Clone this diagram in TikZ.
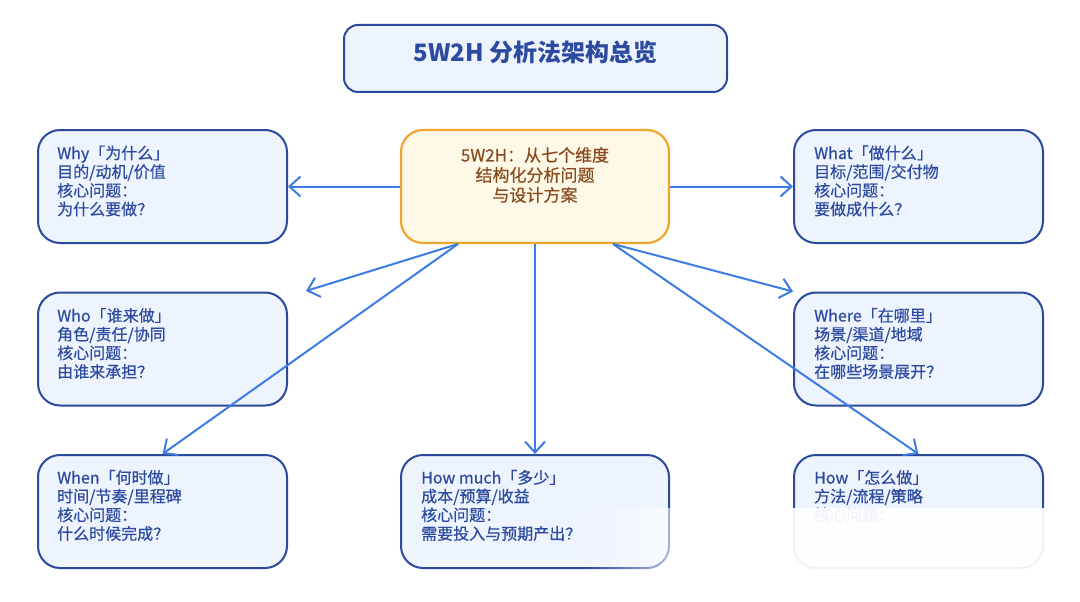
\documentclass[tikz,border=0pt]{standalone}
\usepackage{fontspec}
\setmainfont{Noto Sans CJK SC}
\newfontfamily\medfont{Noto Sans CJK SC}[FakeBold=0.5]
\usetikzlibrary{arrows.meta}
\definecolor{bfill}{HTML}{EEF4FD}
\definecolor{bdraw}{HTML}{2A4A9E}
\definecolor{btext}{HTML}{2C4BA0}
\definecolor{arrc}{HTML}{3D7DE3}
\definecolor{cfill}{HTML}{FEF8E6}
\definecolor{cdraw}{HTML}{EFA62C}
\definecolor{ctext}{HTML}{8A4A1F}
\tikzset{
  box/.style={draw=bdraw, fill=bfill, line width=2pt, rounded corners=22pt, minimum width=249pt, minimum height=113pt, inner sep=0pt},
  cbox/.style={draw=cdraw, fill=cfill, line width=2.2pt, rounded corners=22pt, minimum width=268pt, minimum height=113pt, inner sep=0pt},
  tbox/.style={draw=bdraw, fill=bfill, line width=2pt, rounded corners=14pt, minimum width=383pt, minimum height=67pt, inner sep=0pt},
  txt/.style={text=btext, align=left, inner sep=0pt, font=\medfont\fontsize{16pt}{18.7pt}\selectfont},
  arr/.style={draw=arrc, line width=2pt, -{Straight Barb[length=11pt,width=20pt,line width=2pt]}}
}
\begin{document}
\begin{tikzpicture}[x=1pt,y=-1pt]
\useasboundingbox (0,0) rectangle (1080,602);
\fill[white] (0,0) rectangle (1080,602);
% title
\node[tbox] (title) at (535.5,58.5) {};
\node[text=btext, font=\fontsize{24pt}{27pt}\selectfont\bfseries, inner sep=0pt] (titlet) at (535.5,52) {5W2H 分析法架构总览};
% center
\node[cbox] (center) at (535,186.5) {};
\node[text=ctext, align=center, inner sep=0pt, font=\medfont\fontsize{17pt}{20pt}\selectfont] (centert) at (535,175) {5W2H：从七个维度\\结构化分析问题\\与设计方案};
% boxes
\node[box] (why) at (162.5,186.5) {};
\node[txt, anchor=west] (whyt) at (57,181) {Why「为什么」\\目的/动机/价值\\核心问题：\\为什么要做？};
\node[box] (what) at (918.5,186.5) {};
\node[txt, anchor=west] (whatt) at (814,181) {What「做什么」\\目标/范围/交付物\\核心问题：\\要做成什么？};
\node[box] (who) at (162.5,349) {};
\node[txt, anchor=west] (whot) at (57,343.5) {Who「谁来做」\\角色/责任/协同\\核心问题：\\由谁来承担？};
\node[box] (where) at (918.5,349) {};
\node[txt, anchor=west] (wheret) at (814,343.5) {Where「在哪里」\\场景/渠道/地域\\核心问题：\\在哪些场景展开？};
\node[box] (when) at (162.5,511.5) {};
\node[txt, anchor=west] (whent) at (57,505.5) {When「何时做」\\时间/节奏/里程碑\\核心问题：\\什么时候完成？};
\node[cbox, draw=bdraw, fill=bfill, line width=2pt] (howmuch) at (535,511.5) {};
\node[txt, anchor=west] (howmucht) at (421,505.5) {How much「多少」\\成本/预算/收益\\核心问题：\\需要投入与预期产出？};
\node[box] (how) at (918.5,511.5) {};
\node[txt, anchor=west] (howt) at (814,505.5) {How「怎么做」\\方法/流程/策略\\核心问题：\\\phantom{怎么做}};
% arrows
\coordinate (bl) at (458,244);
\coordinate (br) at (613,244);
\coordinate (whotip) at (306,291);
\draw[arr] (center.west) -- (why.east);
\draw[arr] (center.east) -- (what.west);
\draw[arr] (bl) -- (whotip);
\draw[arr] (bl) -- (when.north);
\draw[arr] (center.south) -- (howmuch.north);
\draw[arr] (br) -- (where.north west);
\draw[arr] (br) -- (how.north);
% watermark fade
\foreach \i in {0,...,12}{
  \fill[white, opacity={(\i+1)/14}] ({590+10*\i},508) rectangle ({600+10*\i},602);
}
\fill[white, opacity=0.93] (720,508) rectangle (1080,602);
\end{tikzpicture}
\end{document}
